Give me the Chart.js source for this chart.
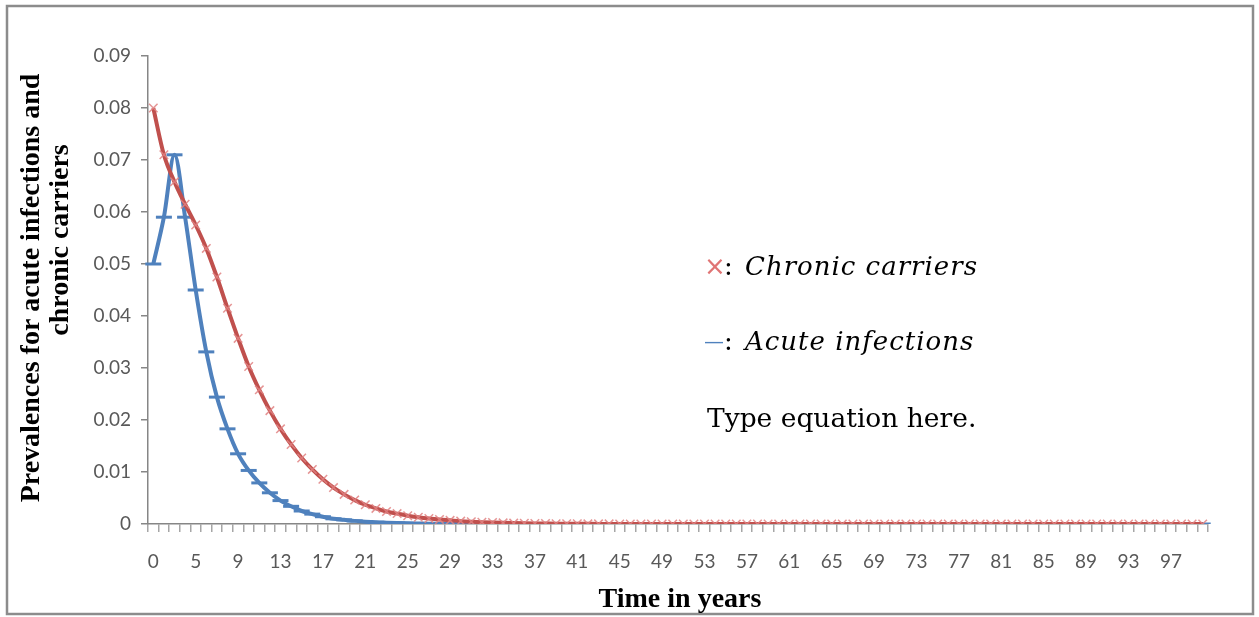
<!DOCTYPE html>
<html>
<head>
<meta charset="utf-8">
<script src="https://cdn.jsdelivr.net/npm/chart.js@4.4.1/dist/chart.umd.min.js"></script>
<style>
  html, body { margin: 0; padding: 0; background: #fff; overflow: hidden; }
  #wrap { width: 1259px; height: 617px; position: relative; }
</style>
</head>
<body>
<div id="wrap"><canvas id="chart" width="1259" height="617"></canvas></div>
<script>
// categories (time in years) as they appear on the axis
const years = [0, 2, 3, 4, 5, 6, 7, 8, 9, 10,
  11, 12, 13, 14, 15, 16, 17, 18, 19, 20,
  21, 22, 23, 24, 25, 26, 27, 28, 29, 30,
  31, 32, 33, 34, 35, 36, 37, 38, 39, 40,
  41, 42, 43, 44, 45, 46, 47, 48, 49, 50,
  51, 52, 53, 54, 55, 56, 57, 58, 59, 60,
  61, 62, 63, 64, 65, 66, 67, 68, 69, 70,
  71, 72, 73, 74, 75, 76, 77, 78, 79, 80,
  81, 82, 83, 84, 85, 86, 87, 88, 89, 90,
  91, 92, 93, 94, 95, 96, 97, 98, 99, 100];

// chronic carriers (red, x markers)
const chronic = [0.0800, 0.0710, 0.0658, 0.0615, 0.0575, 0.0530, 0.0475, 0.0415, 0.0357, 0.0303,
  0.0258, 0.0218, 0.0183, 0.0153, 0.0127, 0.0105, 0.0086, 0.0070, 0.0057, 0.0046,
  0.0037, 0.0030, 0.0024, 0.0020, 0.0016, 0.0013, 0.00105, 0.00085, 0.0007, 0.00055,
  0.00044, 0.00035, 0.00028, 0.00022, 0.00017, 0.00013, 0.0001, 0.00008, 0.00006, 0.00005,
  0.00004, 0.00003, 0.00002, 0.00002, 0.00001, 0.00001, 0, 0, 0, 0,
  0, 0, 0, 0, 0, 0, 0, 0, 0, 0,
  0, 0, 0, 0, 0, 0, 0, 0, 0, 0,
  0, 0, 0, 0, 0, 0, 0, 0, 0, 0,
  0, 0, 0, 0, 0, 0, 0, 0, 0, 0,
  0, 0, 0, 0, 0, 0, 0, 0, 0, 0];

// acute infections (blue, dash markers)
const acute = [0.0500, 0.0590, 0.0710, 0.0590, 0.0450, 0.0331, 0.0244, 0.0183, 0.0135, 0.0103,
  0.0079, 0.0060, 0.0045, 0.0034, 0.0025, 0.0019, 0.0014, 0.0010, 0.0008, 0.0006,
  0.00045, 0.00033, 0.00025, 0.00018, 0.00013, 0.0001, 0.00007, 0.00005, 0.00004, 0.00003,
  0.00002, 0.00001, 0, 0, 0, 0, 0, 0, 0, 0,
  0, 0, 0, 0, 0, 0, 0, 0, 0, 0,
  0, 0, 0, 0, 0, 0, 0, 0, 0, 0,
  0, 0, 0, 0, 0, 0, 0, 0, 0, 0,
  0, 0, 0, 0, 0, 0, 0, 0, 0, 0,
  0, 0, 0, 0, 0, 0, 0, 0, 0, 0,
  0, 0, 0, 0, 0, 0, 0, 0, 0, 0];

const yTicks = [0, 0.01, 0.02, 0.03, 0.04, 0.05, 0.06, 0.07, 0.08, 0.09];

const RED = '#C0504D';
const BLUE = '#4F81BD';

// frame, axis titles and the in-plot key text
const decor = {
  id: 'decor',
  beforeDraw(chart) {
    const ctx = chart.ctx;
    ctx.save();
    ctx.fillStyle = '#fff';
    ctx.fillRect(0, 0, chart.width, chart.height);
    ctx.strokeStyle = '#8c8c8c';
    ctx.lineWidth = 2.5;
    ctx.strokeRect(7, 6, 1246, 608);
    ctx.restore();
  },
  afterDraw(chart) {
    const ctx = chart.ctx;
    ctx.save();
    ctx.fillStyle = '#000';
    ctx.textAlign = 'center';
    ctx.textBaseline = 'middle';

    // y axis title, two lines
    ctx.font = 'bold 28px "Liberation Serif"';
    ctx.save();
    ctx.translate(32, 288);
    ctx.rotate(-Math.PI / 2);
    ctx.fillText('Prevalences for acute infections and', 0, 0);
    ctx.restore();
    ctx.save();
    ctx.translate(61, 240);
    ctx.rotate(-Math.PI / 2);
    ctx.fillText('chronic carriers', 0, 0);
    ctx.restore();

    // x axis title
    ctx.font = 'bold 28px "Liberation Serif"';
    ctx.fillText('Time in years', 680, 600);

    // key
    ctx.textAlign = 'left';
    ctx.font = '26px "DejaVu Sans"';
    ctx.fillStyle = '#E07575';
    ctx.fillText('\u00d7', 704, 268);
    ctx.fillStyle = BLUE;
    ctx.font = '20px "DejaVu Sans"';
    ctx.fillText('\u2014', 704, 343);

    ctx.fillStyle = '#000';
    ctx.font = '26px "DejaVu Serif"';
    ctx.fillText(':', 724, 268);
    ctx.fillText(':', 724, 343);
    ctx.font = 'italic 26px "DejaVu Serif"';
    ctx.letterSpacing = '1px';
    ctx.fillText('Chronic carriers', 745, 268);
    ctx.fillText('Acute infections', 745, 343);
    ctx.letterSpacing = '0px';
    ctx.font = '26.5px "DejaVu Serif"';
    ctx.fillText('Type equation here.', 707, 420);
    ctx.restore();
  }
};

new Chart(document.getElementById('chart'), {
  type: 'line',
  data: {
    labels: years,
    datasets: [
      {
        label: 'Chronic carriers',
        data: chronic,
        borderColor: RED,
        borderWidth: 4,
        pointStyle: 'crossRot',
        pointRadius: 6,
        pointBorderWidth: 1.5,
        pointBorderColor: 'rgba(225,130,130,0.85)',
        pointBackgroundColor: 'rgba(0,0,0,0)',
        tension: 0.3,
        cubicInterpolationMode: 'monotone'
      },
      {
        label: 'Acute infections',
        data: acute,
        borderColor: BLUE,
        borderWidth: 4,
        pointStyle: 'line',
        pointRadius: 8,
        pointBorderWidth: 3,
        pointBorderColor: BLUE,
        tension: 0.3,
        cubicInterpolationMode: 'monotone'
      }
    ]
  },
  options: {
    responsive: false,
    animation: false,
    events: [],
    layout: { padding: { left: 0, top: 56, right: 51, bottom: 0 } },
    plugins: { legend: { display: false }, tooltip: { enabled: false } },
    scales: {
      x: {
        type: 'category',
        offset: true,
        afterFit(scale) { scale.height = 93; },
        border: { display: true, color: '#868686', width: 1.5 },
        grid: { display: true, offset: true, drawOnChartArea: false, drawTicks: true, tickLength: 8, color: '#a6a6a6', lineWidth: 1.5 },
        ticks: {
          autoSkip: false,
          maxRotation: 0,
          minRotation: 0,
          padding: 18,
          color: '#595959',
          font: { family: 'Lato', size: 19 },
          callback: (v, i) => (i % 4 === 0 ? String(years[i]) : '')
        }
      },
      y: {
        min: 0,
        max: 0.09,
        afterFit(scale) { scale.width = 148; },
        afterBuildTicks(scale) { scale.ticks = yTicks.map(v => ({ value: v })); },
        border: { display: true, color: '#868686', width: 1.5 },
        grid: { display: true, drawOnChartArea: false, drawTicks: true, tickLength: 7, color: '#868686', lineWidth: 1.5 },
        ticks: {
          padding: 10,
          color: '#595959',
          font: { family: 'Lato', size: 19 },
          callback: v => String(Math.round(v * 100) / 100)
        }
      }
    }
  },
  plugins: [decor]
});
</script>
</body>
</html>
